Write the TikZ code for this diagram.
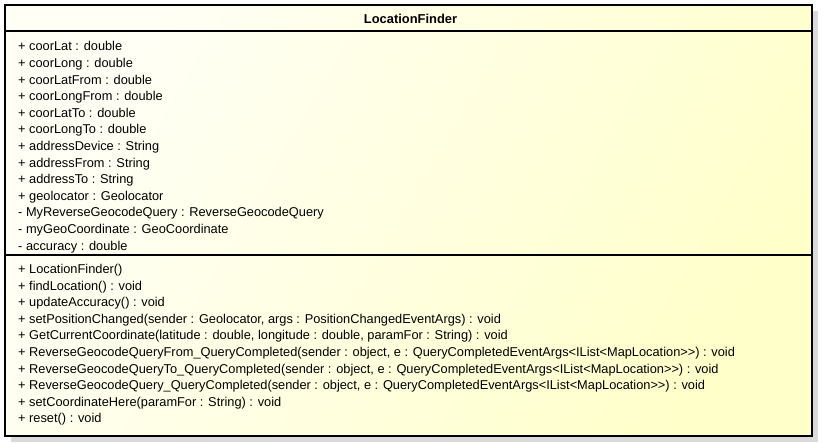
\documentclass[tikz,border=0pt]{standalone}
\usepackage{fontspec}
\setmainfont{Liberation Sans}
\usepackage{tikz}
\definecolor{boxlight}{RGB}{255,255,246}
\definecolor{boxdark}{RGB}{255,255,202}
\definecolor{boxshadow}{RGB}{218,218,218}

\begin{document}
\begin{tikzpicture}[x=1pt, y=-1pt,
    member/.style={anchor=base west, inner sep=0pt, font=\fontsize{12.8}{15}\selectfont},
    classname/.style={anchor=base, inner sep=0pt, font=\fontsize{12.9}{15}\selectfont\bfseries}]
      \useasboundingbox (0,0) rectangle (823,443);
      \fill[white] (0,0) rectangle (823,443);

      \fill[boxshadow] (11,11) rectangle (818,442);
      \shade[left color=boxlight, right color=boxdark, shading angle=60] (5,5) rectangle (812,436);
      \draw[line width=1.2pt] (5,31) -- (812,31);
      \draw[line width=1.2pt] (5,255) -- (812,255);
      \draw[line width=2.4pt] (5,5) rectangle (812,436);

      \node (title) at (410.5,23.3) [classname] {LocationFinder};

      \node (at1) at (18,51) [member] {+ coorLat : double};
      \node (at2) at (18,67.6) [member] {+ coorLong : double};
      \node (at3) at (18,84.2) [member] {+ coorLatFrom : double};
      \node (at4) at (18,100.8) [member] {+ coorLongFrom : double};
      \node (at5) at (18,117.4) [member] {+ coorLatTo : double};
      \node (at6) at (18,134) [member] {+ coorLongTo : double};
      \node (at7) at (18,150.6) [member] {+ addressDevice : String};
      \node (at8) at (18,167.2) [member] {+ addressFrom : String};
      \node (at9) at (18,183.8) [member] {+ addressTo : String};
      \node (at10) at (18,200.4) [member] {+ geolocator : Geolocator};
      \node (at11) at (18,217) [member] {- MyReverseGeocodeQuery : ReverseGeocodeQuery};
      \node (at12) at (18,233.6) [member] {- myGeoCoordinate : GeoCoordinate};
      \node (at13) at (18,250.2) [member] {- accuracy : double};

      \node (op1) at (18,273.5) [member] {+ LocationFinder()};
      \node (op2) at (18,290.1) [member] {+ findLocation() : void};
      \node (op3) at (18,306.7) [member] {+ updateAccuracy() : void};
      \node (op4) at (18,323.3) [member] {+ setPositionChanged(sender : Geolocator, args : PositionChangedEventArgs) : void};
      \node (op5) at (18,339.9) [member] {+ GetCurrentCoordinate(latitude : double, longitude : double, paramFor : String) : void};
      \node (op6) at (18,356.5) [member] {+ ReverseGeocodeQueryFrom\_QueryCompleted(sender : object, e : QueryCompletedEventArgs<IList<MapLocation>{}>) : void};
      \node (op7) at (18,373.1) [member] {+ ReverseGeocodeQueryTo\_QueryCompleted(sender : object, e : QueryCompletedEventArgs<IList<MapLocation>{}>) : void};
      \node (op8) at (18,389.7) [member] {+ ReverseGeocodeQuery\_QueryCompleted(sender : object, e : QueryCompletedEventArgs<IList<MapLocation>{}>) : void};
      \node (op9) at (18,406.3) [member] {+ setCoordinateHere(paramFor : String) : void};
      \node (op10) at (18,422.9) [member] {+ reset() : void};
    \end{tikzpicture}
\end{document}
